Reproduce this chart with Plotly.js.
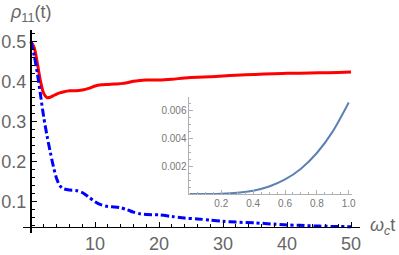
<!DOCTYPE html>
<html>
<head>
<meta charset="utf-8">
<script src="https://cdn.plot.ly/plotly-3.0.1.min.js"></script>
<style>html,body{margin:0;padding:0;background:#fff;}#chart{width:399px;height:255px;}</style>
</head>
<body>
<div id="chart"></div>
<script>
// Main plot data
var t = [0, 0.5, 1, 1.5, 2, 2.5, 3, 3.5, 4, 4.5, 5, 6, 7, 8, 9, 10, 11, 12, 13, 14, 15, 16, 17, 18, 20, 22, 24, 26, 28, 30, 32, 35, 38, 40, 42, 45, 48, 50];
var rhoRed = [0.500, 0.485, 0.445, 0.400, 0.370, 0.360, 0.361, 0.365, 0.369, 0.372, 0.374, 0.377, 0.377, 0.379, 0.383, 0.389, 0.392, 0.393, 0.394, 0.395, 0.397, 0.401, 0.403, 0.404, 0.404, 0.406, 0.409, 0.411, 0.412, 0.414, 0.416, 0.418, 0.420, 0.421, 0.421, 0.422, 0.423, 0.424];
var rhoBlue = [0.500, 0.465, 0.420, 0.365, 0.310, 0.265, 0.225, 0.188, 0.158, 0.140, 0.133, 0.129, 0.128, 0.123, 0.112, 0.100, 0.092, 0.088, 0.087, 0.085, 0.080, 0.074, 0.070, 0.068, 0.067, 0.063, 0.059, 0.057, 0.054, 0.051, 0.049, 0.047, 0.044, 0.042, 0.041, 0.039, 0.038, 0.0375];
var xTickVals = [10, 20, 30, 40, 50];
var xTickText = ["10", "20", "30", "40", "50"];
var yTickVals = [0.1, 0.2, 0.3, 0.4, 0.5];
var yTickText = ["0.1", "0.2", "0.3", "0.4", "0.5"];

// Inset data
var tInset = [0, 0.1, 0.2, 0.3, 0.4, 0.5, 0.6, 0.7, 0.8, 0.9, 1.0];
var vInset = [0, 0.000002, 0.00002, 0.00009, 0.00024, 0.00054, 0.00105, 0.00183, 0.00296, 0.00452, 0.0066];
var insetXTickVals = [0.2, 0.4, 0.6, 0.8, 1.0];
var insetXTickText = ["0.2", "0.4", "0.6", "0.8", "1.0"];
var insetYTickVals = [0.002, 0.004, 0.006];
var insetYTickText = ["0.002", "0.004", "0.006"];

var FONT = "Liberation Sans, Arial, sans-serif";

var traces = [
  {x: t, y: rhoRed, type: 'scatter', mode: 'lines', xaxis: 'x', yaxis: 'y',
   line: {color: '#ff0000', width: 3, shape: 'spline', smoothing: 0.8}},
  {x: t, y: rhoBlue, type: 'scatter', mode: 'lines', xaxis: 'x', yaxis: 'y',
   line: {color: '#0000ff', width: 3, dash: '8px,3px,3px,3px', shape: 'spline', smoothing: 0.8}},
  {x: tInset, y: vInset, type: 'scatter', mode: 'lines', xaxis: 'x2', yaxis: 'y2',
   line: {color: '#5e81b5', width: 2, shape: 'spline', smoothing: 0.8}}
];

var layout = {
  width: 399, height: 255,
  margin: {l: 23, r: 39, t: 30, b: 22, pad: 0},
  paper_bgcolor: '#fff', plot_bgcolor: 'rgba(0,0,0,0)',
  showlegend: false,
  font: {family: FONT},
  xaxis: {
    domain: [0, 1], range: [-1.25, 51.4], anchor: 'free', position: 0.032,
    showgrid: false, zeroline: false, showline: true, linecolor: '#000', linewidth: 1.5,
    tickmode: 'array', tickvals: xTickVals, ticktext: xTickText,
    ticks: 'inside', ticklen: 5, tickwidth: 1, tickcolor: '#000',
    minor: {dtick: 2, tick0: 0, ticks: 'inside', ticklen: 3, tickwidth: 1, tickcolor: '#000', showgrid: false},
    tickfont: {size: 18, color: '#666', family: FONT}
  },
  yaxis: {
    domain: [0, 1], range: [0.0218, 0.529], anchor: 'free', position: 0.0237,
    showgrid: false, zeroline: false, showline: true, linecolor: '#000', linewidth: 2,
    tickmode: 'array', tickvals: yTickVals, ticktext: yTickText,
    ticks: 'inside', ticklen: 5, tickwidth: 1, tickcolor: '#000',
    minor: {dtick: 0.02, tick0: 0, ticks: 'inside', ticklen: 3, tickwidth: 1, tickcolor: '#000', showgrid: false},
    tickfont: {size: 18, color: '#666', family: FONT}
  },
  xaxis2: {
    domain: [0.494, 0.976], range: [0, 1.02], anchor: 'y2',
    showgrid: false, zeroline: false, showline: true, linecolor: '#b0b0b0', linewidth: 1,
    tickmode: 'array', tickvals: insetXTickVals, ticktext: insetXTickText,
    ticks: 'inside', ticklen: 4, tickwidth: 1, tickcolor: '#b0b0b0',
    minor: {dtick: 0.05, tick0: 0, ticks: 'inside', ticklen: 2, tickwidth: 1, tickcolor: '#b0b0b0', showgrid: false},
    tickfont: {size: 10, color: '#777', family: FONT}
  },
  yaxis2: {
    domain: [0.192, 0.670], range: [0, 0.007], anchor: 'x2',
    showgrid: false, zeroline: false, showline: true, linecolor: '#b0b0b0', linewidth: 1,
    tickmode: 'array', tickvals: insetYTickVals, ticktext: insetYTickText,
    ticks: 'inside', ticklen: 4, tickwidth: 1, tickcolor: '#b0b0b0',
    minor: {dtick: 0.0005, tick0: 0, ticks: 'inside', ticklen: 2, tickwidth: 1, tickcolor: '#b0b0b0', showgrid: false},
    tickfont: {size: 10, color: '#777', family: FONT}
  },
  annotations: [
    {xref: 'paper', yref: 'paper', x: 0.021, y: 1.079, xanchor: 'center', yanchor: 'middle',
     text: '<i>ρ</i><sub>11</sub>(t)', showarrow: false, font: {size: 18, color: '#666', family: FONT}},
    {xref: 'paper', yref: 'paper', x: 1.068, y: 0.034, xanchor: 'center', yanchor: 'middle',
     text: '<i>ω</i><sub><i>c</i></sub>t', showarrow: false, font: {size: 18, color: '#666', family: FONT}}
  ]
};

Plotly.newPlot('chart', traces, layout, {staticPlot: true, displayModeBar: false});
</script>
</body>
</html>
